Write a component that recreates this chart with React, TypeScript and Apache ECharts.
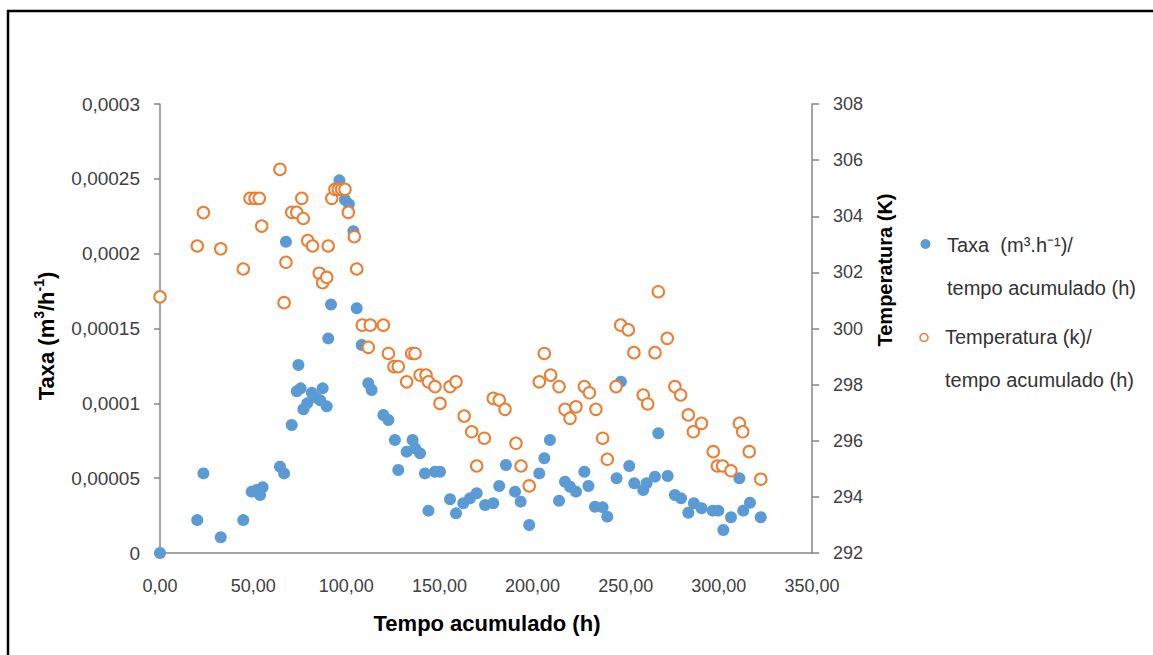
import React, { useEffect, useRef } from "react";
import * as echarts from "echarts";

// Taxa (m3/h-1) vs tempo acumulado (h)
const taxaPoints: [number, number][] = [
  [0, 0], [20.0, 0.000022], [23.3, 0.0000532], [32.6, 0.0000105], [44.7, 0.000022],
  [49.2, 0.000041], [51.9, 0.0000421], [53.7, 0.0000388], [55.1, 0.0000439],
  [64.4, 0.0000577], [66.6, 0.0000532], [67.6, 0.000208], [70.7, 0.0000855],
  [74.3, 0.0001256], [73.4, 0.000108], [75.5, 0.00011], [77.0, 0.000096],
  [79.0, 0.0001], [81.5, 0.000107], [83.5, 0.000104], [86.0, 0.000102],
  [87.3, 0.00011], [89.5, 0.000098], [90.3, 0.0001434], [91.8, 0.000166],
  [96.3, 0.000249], [99.3, 0.000236], [101.4, 0.000233], [103.8, 0.000215],
  [105.6, 0.0001635], [108.3, 0.000139], [111.8, 0.0001134], [113.6, 0.0001089],
  [119.9, 0.0000922], [122.6, 0.0000889], [126.1, 0.0000755], [127.9, 0.0000555],
  [132.4, 0.0000677], [135.6, 0.0000755], [136.9, 0.00007], [139.6, 0.0000666],
  [142.2, 0.0000532], [144.1, 0.0000283], [147.6, 0.0000543], [150.3, 0.0000543],
  [155.7, 0.0000359], [158.9, 0.0000265], [162.8, 0.0000332], [166.4, 0.0000365],
  [170.0, 0.0000399], [174.5, 0.000032], [178.9, 0.0000332], [182.1, 0.0000448],
  [185.7, 0.0000588], [190.6, 0.000041], [193.6, 0.0000343], [198.2, 0.0000187],
  [203.6, 0.0000532], [206.3, 0.0000633], [209.3, 0.0000755], [214.2, 0.0000349],
  [217.4, 0.0000476], [220.1, 0.0000443], [223.3, 0.000041], [227.8, 0.0000543],
  [230.0, 0.0000448], [233.5, 0.0000309], [237.6, 0.0000305], [240.1, 0.0000243],
  [245.1, 0.0000499], [247.4, 0.0001145], [251.9, 0.0000581], [254.6, 0.0000466],
  [259.4, 0.0000421], [261.2, 0.0000466], [265.7, 0.000051], [267.5, 0.00008],
  [272.5, 0.0000514], [276.4, 0.0000388], [279.7, 0.0000365], [283.6, 0.0000269],
  [286.6, 0.0000332], [290.7, 0.0000299], [296.7, 0.0000283], [299.7, 0.0000283],
  [302.4, 0.0000154], [306.5, 0.0000239], [311.0, 0.0000499], [313.1, 0.0000283],
  [316.7, 0.0000336], [322.5, 0.0000239],
];

// Temperatura (K) vs tempo acumulado (h)
const tempPoints: [number, number][] = [
  [0, 301.13], [20, 302.94], [23.3, 304.13], [32.6, 302.84], [44.7, 302.12],
  [48.3, 304.64], [51, 304.64], [53.3, 304.64], [54.6, 303.65], [64.4, 305.67],
  [66.6, 300.92], [67.6, 302.36], [70.7, 304.14], [73.4, 304.14], [76.1, 304.64],
  [76.9, 303.92], [79.3, 303.13], [81.9, 302.94], [85.5, 301.97], [87.3, 301.63],
  [89.5, 301.82], [90.3, 302.94], [92.2, 304.64], [93.9, 304.96], [95.7, 304.96],
  [97.5, 304.96], [99.3, 304.96], [101.1, 304.14], [104.3, 303.27], [105.6, 302.12],
  [108.6, 300.12], [112.9, 300.12], [119.9, 300.12], [111.8, 299.33], [122.6, 299.11],
  [125.6, 298.64], [127.9, 298.64], [132.4, 298.1], [135.1, 299.11], [136.9, 299.11],
  [139.6, 298.34], [142.8, 298.34], [144.1, 298.1], [147.6, 297.93], [150.3, 297.33],
  [155.7, 297.93], [158.9, 298.1], [163.3, 296.88], [167.3, 296.32], [170.0, 295.1],
  [174.1, 296.09], [178.9, 297.51], [182.1, 297.45], [185.2, 297.12], [191.1, 295.91],
  [193.8, 295.1], [198.2, 294.39], [203.6, 298.1], [206.3, 299.11], [209.7, 298.34],
  [214.2, 297.93], [217.4, 297.12], [220.1, 296.8], [223.3, 297.21], [227.8, 297.93],
  [230.5, 297.71], [234.0, 297.12], [237.6, 296.09], [240.1, 295.34], [244.8, 297.93],
  [247.3, 300.12], [251.4, 299.95], [254.4, 299.14], [259.4, 297.63], [261.8, 297.31],
  [265.7, 299.14], [267.5, 301.31], [272.3, 299.65], [276.4, 297.93], [279.5, 297.63],
  [283.6, 296.92], [286.3, 296.32], [290.7, 296.62], [297.0, 295.61], [299.2, 295.1],
  [302.0, 295.1], [306.5, 294.93], [311.0, 296.62], [312.8, 296.32], [316.3, 295.61],
  [322.5, 294.63],
];

const seriesNames = ["Taxa  (m³.h⁻¹)/ tempo acumulado (h)", "Temperatura (k)/ tempo acumulado (h)"];
const xTitle = "Tempo acumulado (h)";
const yLeftTitleRich = "{b|Taxa (m}{s|3}{b|/h}{s|-1}{b|)}";
const yRightTitle = "Temperatura (K)";

const FONT = "'Liberation Sans', Arial, sans-serif";
const BLUE = "#5B9BD5";
const ORANGE = "#ED7D31";
const AXIS = "#868686";
const LABEL = "#404040";

export default function App() {
  const ref = useRef<HTMLDivElement>(null);
  useEffect(() => {
    if (!ref.current) return;
    const chart = echarts.init(ref.current, null, { renderer: "svg" });
    chart.setOption({
      animation: false,
      backgroundColor: "#ffffff",
      grid: { left: 160, top: 104, width: 652, height: 449, containLabel: false },
      xAxis: {
        type: "value",
        min: 0,
        max: 350,
        interval: 50,
        axisLine: { show: true, onZero: false, lineStyle: { color: AXIS, width: 1.5 } },
        axisTick: { show: false },
        splitLine: { show: false },
        axisLabel: {
          margin: 24,
          color: LABEL,
          fontFamily: FONT,
          fontSize: 18,
          formatter: (v: number) => v.toFixed(2).replace(".", ","),
        },
      },
      yAxis: [
        {
          type: "value",
          position: "left",
          min: 0,
          max: 0.0003,
          interval: 0.00005,
          axisLine: { show: true, lineStyle: { color: AXIS, width: 1.5 } },
          axisTick: { show: true, inside: false, length: 6, lineStyle: { color: AXIS, width: 1.5 } },
          splitLine: { show: false },
          axisLabel: {
            margin: 20,
            color: LABEL,
            fontFamily: FONT,
            fontSize: 19,
            formatter: (v: number) =>
              v === 0 ? "0" : String(parseFloat(v.toPrecision(6))).replace(".", ","),
          },
        },
        {
          type: "value",
          position: "right",
          min: 292,
          max: 308,
          interval: 2,
          axisLine: { show: true, lineStyle: { color: AXIS, width: 1.5 } },
          axisTick: { show: true, inside: false, length: 7, lineStyle: { color: AXIS, width: 1.5 } },
          splitLine: { show: false },
          axisLabel: { margin: 21, color: LABEL, fontFamily: FONT, fontSize: 18 },
        },
      ],
      series: [
        {
          name: seriesNames[0],
          type: "scatter",
          yAxisIndex: 0,
          symbol: "circle",
          symbolSize: 12,
          itemStyle: { color: BLUE, opacity: 1 },
          data: taxaPoints,
        },
        {
          name: seriesNames[1],
          type: "scatter",
          yAxisIndex: 1,
          symbol: "circle",
          symbolSize: 11.5,
          itemStyle: { color: "#ffffff", borderColor: ORANGE, borderWidth: 2, opacity: 1 },
          data: tempPoints,
        },
      ],
      graphic: [
        {
          type: "rect",
          shape: { x: 8, y: 11, width: 1170, height: 670 },
          style: { fill: "none", stroke: "#000000", lineWidth: 2.5 },
          silent: true,
        },
        {
          type: "text",
          x: 487,
          y: 623,
          style: { text: xTitle, font: `bold 22px ${FONT}`, fill: "#000000", align: "center", verticalAlign: "middle" },
        },
        {
          type: "text",
          x: 46,
          y: 336,
          rotation: Math.PI / 2,
          style: {
            text: yLeftTitleRich,
            align: "center",
            verticalAlign: "middle",
            rich: {
              b: { fontFamily: FONT, fontWeight: "bold", fontSize: 22, lineHeight: 28, fill: "#000000", verticalAlign: "middle" },
              s: { fontFamily: FONT, fontWeight: "bold", fontSize: 14, lineHeight: 14, fill: "#000000", verticalAlign: "top" },
            },
          },
        },
        {
          type: "text",
          x: 885,
          y: 270,
          rotation: Math.PI / 2,
          style: { text: yRightTitle, font: `bold 20px ${FONT}`, fill: "#000000", align: "center", verticalAlign: "middle" },
        },
        { type: "circle", shape: { cx: 925.5, cy: 244, r: 5 }, style: { fill: BLUE } },
        {
          type: "text",
          x: 947,
          y: 245,
          style: { text: "Taxa  (m³.h⁻¹)/", font: `20px ${FONT}`, fill: "#333333", verticalAlign: "middle" },
        },
        {
          type: "text",
          x: 947,
          y: 288,
          style: { text: "tempo acumulado (h)", font: `20px ${FONT}`, fill: "#333333", verticalAlign: "middle" },
        },
        {
          type: "circle",
          shape: { cx: 924, cy: 337.5, r: 4 },
          style: { fill: "#ffffff", stroke: ORANGE, lineWidth: 1.5 },
        },
        {
          type: "text",
          x: 945,
          y: 337,
          style: { text: "Temperatura (k)/", font: `20px ${FONT}`, fill: "#333333", verticalAlign: "middle" },
        },
        {
          type: "text",
          x: 945,
          y: 380,
          style: { text: "tempo acumulado (h)", font: `20px ${FONT}`, fill: "#333333", verticalAlign: "middle" },
        },
      ],
    });
    return () => chart.dispose();
  }, []);
  return (
    <div
      ref={ref}
      style={{ position: "fixed", left: 0, top: 0, width: 1153, height: 655, background: "#fff" }}
    />
  );
}
